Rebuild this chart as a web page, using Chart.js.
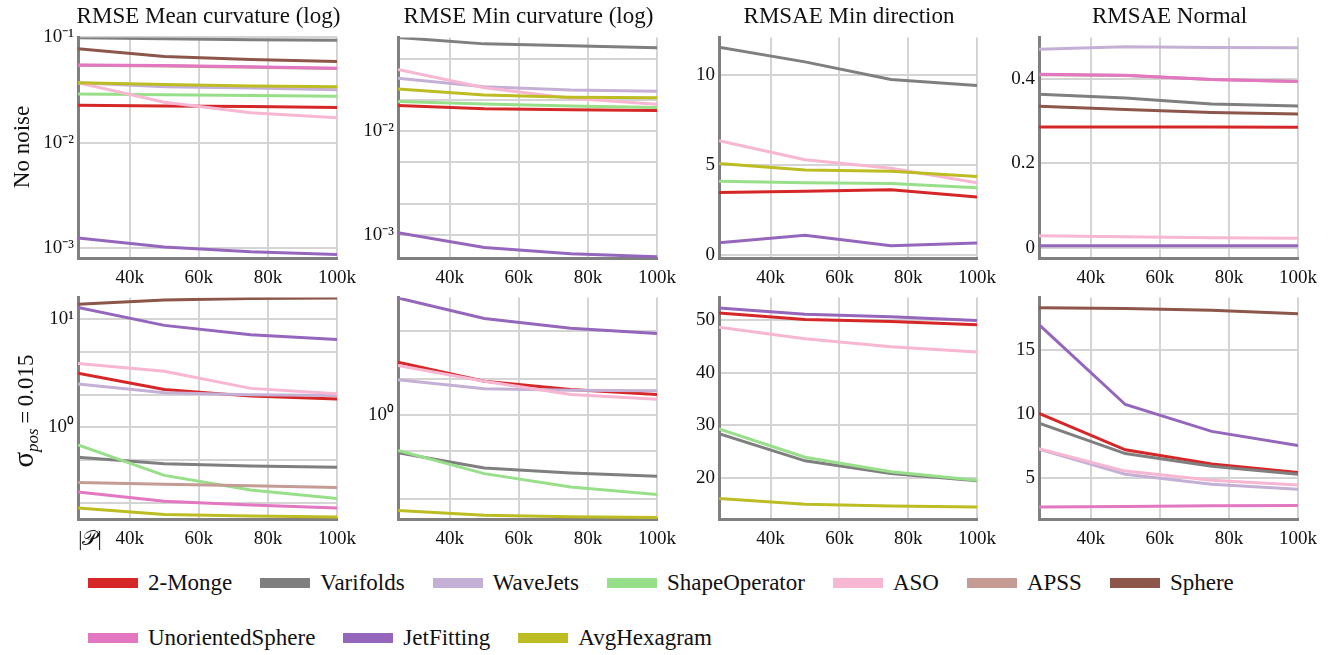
<!DOCTYPE html>
<html>
<head>
<meta charset="utf-8">
<script src="https://cdn.jsdelivr.net/npm/chart.js@4.4.0/dist/chart.umd.min.js"></script>
<style>
  body { margin: 0; width: 1333px; height: 655px; background: #fff; position: relative; overflow: hidden;
         font-family: "Liberation Serif", "Times New Roman", serif; color: #111; }
  canvas.panel { position: absolute; }
  .title { position: absolute; font-size: 23px; transform: translateX(-50%); white-space: nowrap; }
  .rowlab { position: absolute; font-size: 23px; white-space: nowrap; transform: translate(-50%, -50%) rotate(-90deg); }
  .xlab { position: absolute; font-size: 21px; transform: translate(-50%, -50%); white-space: nowrap; }
  .legend-row { position: absolute; left: 88px; display: flex; align-items: center; gap: 28px; font-size: 23px; }
  .item { display: flex; align-items: center; }
  .swatch { width: 50px; height: 10px; margin-right: 10px; }
</style>
</head>
<body>

<script>
// number of points |P|
const xPoints = [25000, 50000, 75000, 100000];
const xTicks = [40000, 60000, 80000, 100000];
const xTickLabels = ['40k', '60k', '80k', '100k'];

const methods = ['2-Monge', 'Varifolds', 'WaveJets', 'ShapeOperator', 'ASO', 'APSS', 'Sphere',
                 'UnorientedSphere', 'JetFitting', 'AvgHexagram'];
const methodColors = ['#d62728', '#7f7f7f', '#c5b0d5', '#98df8a', '#f7b6d2', '#c49c94', '#8c564b',
                      '#e377c2', '#9467bd', '#bcbd22'];

// one row per method, same order as methods (null = not computed)
const meanCurvClean = [
  [0.0227, 0.0223, 0.0220, 0.0216],
  [0.099, 0.097, 0.095, 0.094],
  [0.037, 0.034, 0.033, 0.0318],
  [0.029, 0.0285, 0.028, 0.0276],
  [0.037, 0.0242, 0.0192, 0.0172],
  [0.0545, 0.0535, 0.052, 0.0505],
  [0.078, 0.0658, 0.0617, 0.059],
  [0.0548, 0.054, 0.0525, 0.051],
  [0.00124, 0.00102, 0.000916, 0.000865],
  [0.037, 0.0356, 0.0345, 0.034]
];
const minCurvClean = [
  [0.0177, 0.0164, 0.0161, 0.0158],
  [0.080, 0.0693, 0.0664, 0.0635],
  [0.0324, 0.0268, 0.0249, 0.0242],
  [0.0193, 0.0183, 0.0175, 0.0169],
  [0.0393, 0.0262, 0.0207, 0.0182],
  null, null, null,
  [0.00105, 0.000757, 0.00066, 0.000617],
  [0.0255, 0.0223, 0.0212, 0.021]
];
const minDirClean = [
  [3.48, 3.54, 3.63, 3.22],
  [11.56, 10.74, 9.76, 9.43],
  null,
  [4.1, 4.02, 3.98, 3.74],
  [6.35, 5.29, 4.82, 4.02],
  null, null, null,
  [0.68, 1.09, 0.51, 0.66],
  [5.08, 4.73, 4.66, 4.36]
];
const normalClean = [
  [0.286, 0.286, 0.286, 0.285],
  [0.363, 0.354, 0.34, 0.335],
  [0.469, 0.475, 0.473, 0.4725],
  null,
  [0.0295, 0.027, 0.0248, 0.0234],
  [0.409, 0.407, 0.398, 0.393],
  [0.335, 0.327, 0.32, 0.3165],
  [0.41, 0.408, 0.398, 0.393],
  [0.006, 0.006, 0.006, 0.006],
  null
];
const meanCurvNoisy = [
  [3.18, 2.25, 1.95, 1.83],
  [0.531, 0.461, 0.439, 0.427],
  [2.52, 2.1, 2.01, 1.98],
  [0.69, 0.36, 0.263, 0.22],
  [3.92, 3.31, 2.3, 2.05],
  [0.309, 0.298, 0.288, 0.278],
  [13.8, 15.1, 15.6, 15.8],
  [0.252, 0.207, 0.191, 0.18],
  [12.9, 8.81, 7.2, 6.51],
  [0.18, 0.156, 0.151, 0.148]
];
const minCurvNoisy = [
  [2.76, 1.92, 1.64, 1.49],
  [0.485, 0.362, 0.329, 0.309],
  [1.97, 1.66, 1.61, 1.6],
  [0.507, 0.325, 0.252, 0.218],
  [2.6, 1.92, 1.49, 1.36],
  null, null, null,
  [9.5, 6.41, 5.3, 4.79],
  [0.16, 0.146, 0.142, 0.14]
];
const minDirNoisy = [
  [51.4, 50.2, 49.8, 49.2],
  [28.4, 23.2, 20.8, 19.4],
  null,
  [29.3, 23.9, 21.1, 19.5],
  [48.7, 46.5, 45.0, 44.0],
  null, null, null,
  [52.4, 51.2, 50.7, 50.0],
  [16.0, 14.9, 14.6, 14.4]
];
const normalNoisy = [
  [10.04, 7.2, 6.09, 5.42],
  [9.29, 6.91, 5.91, 5.29],
  [7.25, 5.29, 4.51, 4.12],
  null,
  [7.28, 5.54, 4.82, 4.46],
  null,
  [18.29, 18.23, 18.1, 17.82],
  [2.73, 2.77, 2.83, 2.86],
  [16.97, 10.74, 8.64, 7.53],
  null
];

// y tick positions (grid lines) and their labels
const ticksMeanClean = [0.001, 0.01, 0.1];
const labelsMeanClean = ['10⁻³', '10⁻²', '10⁻¹'];
const ticksMinClean = [0.001, 0.002, 0.005, 0.01, 0.02, 0.05];
const labelsMinClean = ['10⁻³', '', '', '10⁻²', '', ''];
const ticksDirClean = [0, 5, 10];
const ticksNormClean = [0, 0.2, 0.4];
const ticksMeanNoisy = [0.2, 0.5, 1, 2, 5, 10];
const labelsMeanNoisy = ['', '', '10⁰', '', '', '10¹'];
const ticksMinNoisy = [0.2, 0.5, 1, 2, 5];
const labelsMinNoisy = ['', '', '10⁰', '', ''];
const ticksDirNoisy = [20, 30, 40, 50];
const ticksNormNoisy = [5, 10, 15];

const titles = ['RMSE Mean curvature (log)', 'RMSE Min curvature (log)', 'RMSAE Min direction', 'RMSAE Normal'];

const panels = [
  { data: meanCurvClean, log: true, min: 0.0008, max: 0.1, ticks: ticksMeanClean, labels: labelsMeanClean },
  { data: minCurvClean, log: true, min: 0.0006, max: 0.08, ticks: ticksMinClean, labels: labelsMinClean },
  { data: minDirClean, log: false, min: -0.17, max: 12.1, ticks: ticksDirClean },
  { data: normalClean, log: false, min: -0.023, max: 0.497, ticks: ticksNormClean },
  { data: meanCurvNoisy, log: true, min: 0.142, max: 16, ticks: ticksMeanNoisy, labels: labelsMeanNoisy },
  { data: minCurvNoisy, log: true, min: 0.136, max: 9.6, ticks: ticksMinNoisy, labels: labelsMinNoisy },
  { data: minDirNoisy, log: false, min: 12.1, max: 54.4, ticks: ticksDirNoisy },
  { data: normalNoisy, log: false, min: 1.8, max: 19.1, ticks: ticksNormNoisy }
];

// plot area of every panel on the page
const colLeft = [78, 398, 719, 1039];
const colRight = [339, 659, 979, 1300];
const rowTop = [36, 296];
const rowBottom = [258, 519];
const padL = 70, padT = 14, padR = 26, padB = 38;

const tickFont = { family: "'Liberation Serif', 'Times New Roman', serif", size: 19 };
const gridColor = '#d4d4d4';

function addText(cls, html, x, y) {
  const d = document.createElement('div');
  d.className = cls;
  d.innerHTML = html;
  d.style.left = x + 'px';
  d.style.top = y + 'px';
  document.body.appendChild(d);
  return d;
}

function fmtNum(v) {
  return String(Math.round(v * 1000) / 1000);
}

panels.forEach(function (p, i) {
  const col = i % 4, row = Math.floor(i / 4);
  const w = colRight[col] - colLeft[col];
  const h = rowBottom[row] - rowTop[row];

  const canvas = document.createElement('canvas');
  canvas.className = 'panel';
  canvas.width = w + padL + padR;
  canvas.height = h + padT + padB;
  canvas.style.left = (colLeft[col] - padL) + 'px';
  canvas.style.top = (rowTop[row] - padT) + 'px';
  document.body.appendChild(canvas);

  const datasets = [];
  p.data.forEach(function (vals, m) {
    if (!vals) return;
    datasets.push({
      label: methods[m],
      data: vals.map((v, k) => ({ x: xPoints[k], y: v })),
      borderColor: methodColors[m],
      backgroundColor: methodColors[m],
      borderWidth: 3,
      pointRadius: 0,
      tension: 0,
      order: methods.length - m
    });
  });

  new Chart(canvas.getContext('2d'), {
    type: 'line',
    data: { datasets: datasets },
    options: {
      responsive: false,
      animation: false,
      layout: { padding: { top: padT, right: padR, left: 0, bottom: 0 } },
      plugins: { legend: { display: false }, tooltip: { enabled: false } },
      scales: {
        x: {
          type: 'linear',
          min: 25000,
          max: 100000,
          bounds: 'data',
          afterFit: s => { s.height = padB; },
          afterBuildTicks: s => { s.ticks = xTicks.map(v => ({ value: v })); },
          ticks: {
            autoSkip: false, maxRotation: 0, padding: 9, color: '#111', font: tickFont,
            callback: v => xTickLabels[xTicks.indexOf(v)]
          },
          grid: { color: gridColor, lineWidth: 2, drawTicks: false },
          border: { display: true, color: '#808080', width: 3 }
        },
        y: {
          type: p.log ? 'logarithmic' : 'linear',
          min: p.min,
          max: p.max,
          bounds: 'data',
          afterFit: s => { s.width = padL; },
          afterBuildTicks: s => { s.ticks = p.ticks.map(v => ({ value: v })); },
          ticks: {
            autoSkip: false, padding: 4, color: '#111', font: tickFont,
            callback: function (v) {
              const k = p.ticks.findIndex(t => Math.abs(t - v) < 1e-9);
              if (p.labels) return k >= 0 ? p.labels[k] : '';
              return fmtNum(v);
            }
          },
          grid: { color: gridColor, lineWidth: 2, drawTicks: false },
          border: { display: true, color: '#808080', width: 3 }
        }
      }
    }
  });
});

// column titles
titles.forEach(function (t, c) {
  addText('title', t, (colLeft[c] + colRight[c]) / 2, 3);
});

// row labels
addText('rowlab', 'No noise', 22, 147);
addText('rowlab', '<span style="font-size:29px">σ</span><sub style="font-size:17px"><i>pos</i></sub>&thinsp;=&thinsp;0.015', 25, 411);
addText('xlab', '|𝒫|', 90, 538);

// legend: first seven in row one, rest in row two
[[0, 7, 570], [7, 10, 625]].forEach(function (r) {
  const rowDiv = document.createElement('div');
  rowDiv.className = 'legend-row';
  rowDiv.style.top = r[2] + 'px';
  for (let m = r[0]; m < r[1]; m++) {
    const it = document.createElement('div');
    it.className = 'item';
    it.innerHTML = '<span class="swatch" style="background:' + methodColors[m] + '"></span>' + methods[m];
    rowDiv.appendChild(it);
  }
  document.body.appendChild(rowDiv);
});
</script>
</body>
</html>
